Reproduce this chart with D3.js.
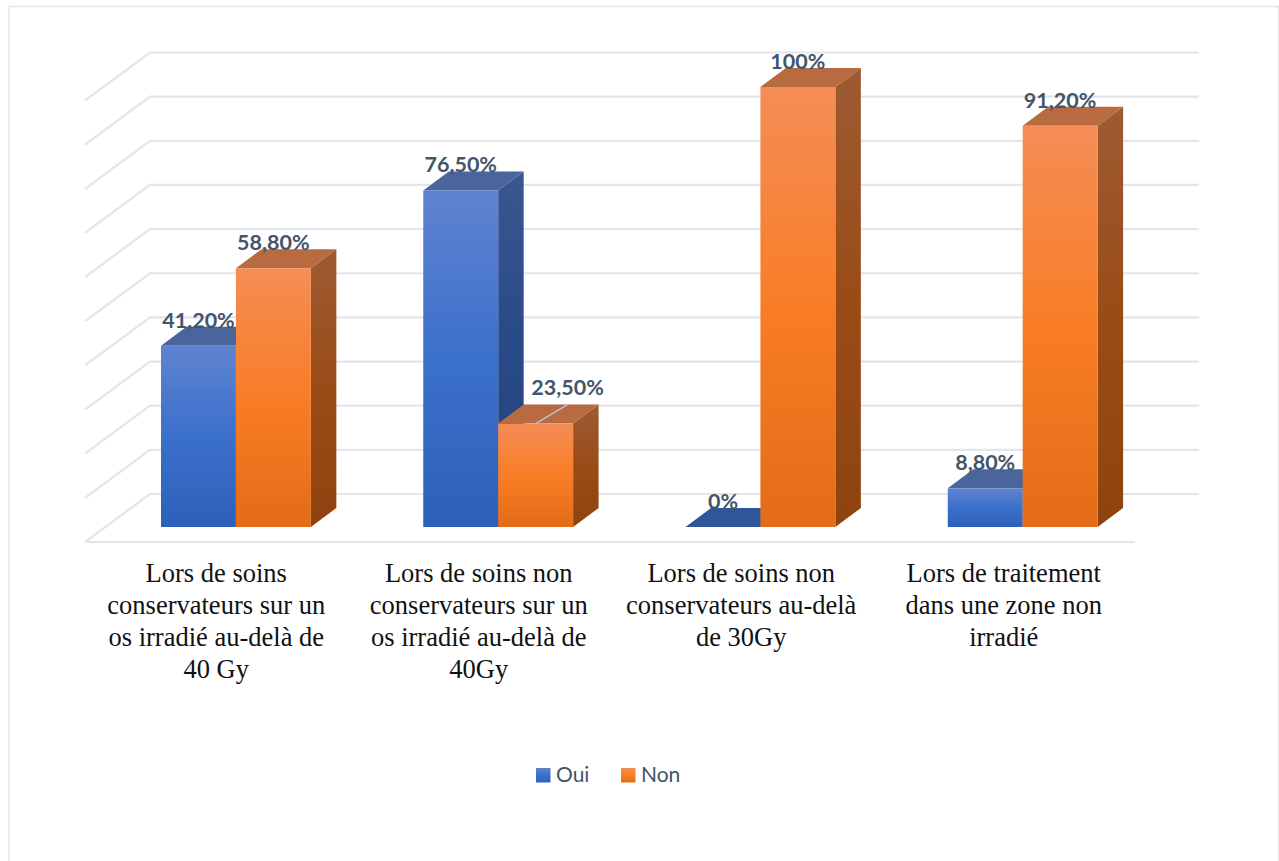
<!DOCTYPE html>
<html><head><meta charset="utf-8">
<style>html,body{margin:0;padding:0;background:#fff}svg{display:block}</style>
<script src="https://cdn.jsdelivr.net/npm/d3@7"></script></head>
<body><svg id="c" width="1279" height="861"></svg>
<script>
const categories=[
 ["Lors de soins","conservateurs sur un","os irradié au-delà de","40 Gy"],
 ["Lors de soins non","conservateurs sur un","os irradié au-delà de","40Gy"],
 ["Lors de soins non","conservateurs au-delà","de 30Gy"],
 ["Lors de traitement","dans une zone non","irradié"]];
const seriesNames=["Oui","Non"];
const oui=[41.2,76.5,0,8.8];
const non=[58.8,23.5,100,91.2];
const ouiLabels=["41,20%","76,50%","0%","8,80%"];
const nonLabels=["58,80%","23,50%","100%","91,20%"];
const gridTicks=d3.range(0,101,10);

const svg=d3.select("#c");
// frame
svg.append("rect").attr("x",9).attr("y",6.5).attr("width",1269.5).attr("height",900)
  .attr("fill","#fff").attr("stroke","#e2e6ec").attr("stroke-width",1.5);

// scales
const dx=65,dy=-48, bdx=25.5,bdy=-19;
const xAxis=d3.scaleBand().domain(d3.range(4)).range([85,1135]);
const xGroup=d3.scaleBand().domain(d3.range(4)).range([104.8,1153.8]).paddingInner(0.4286).paddingOuter(0.2143);
const xSeries=d3.scaleBand().domain(seriesNames).range([0,xGroup.bandwidth()]);
const yWall=d3.scaleLinear().domain([0,100]).range([494,52.5]);
const yBar=d3.scaleLinear().domain([0,100]).range([527,87]);

// gradients
const defs=svg.append("defs");
function grad(id,stops){
  const g=defs.append("linearGradient").attr("id",id).attr("x1",0).attr("y1",0).attr("x2",0).attr("y2",1);
  stops.forEach(s=>g.append("stop").attr("offset",s[0]).attr("stop-color",s[1]));
}
const frontStops={Oui:[[0,"#6083d0"],[0.5,"#3b70cb"],[1,"#2d60b8"]],Non:[[0,"#f48d56"],[0.5,"#f97d26"],[1,"#e46b17"]]};
const sideStops={Oui:[[0,"#3a5690"],[0.5,"#284a88"],[1,"#23427c"]],Non:[[0,"#9d5b33"],[0.5,"#9a4c17"],[1,"#8e430e"]]};
const topFill={Oui:"#4a659b",Non:"#b86a40"};
const zeroTop="#2f5699";
seriesNames.forEach(s=>{grad("f"+s,frontStops[s]);grad("s"+s,sideStops[s]);});

// gridlines
const grid=svg.append("g").attr("fill","none").attr("stroke","#e1e5ec").attr("stroke-width",2.2);
grid.selectAll("path").data(gridTicks).join("path")
  .attr("d",t=>{const y=yWall(t);return d3.line()([[85,y-dy],[85+dx,y],[1199,y]]);});
grid.append("path").attr("d",d3.line()([[85,yWall(0)-dy],[1135,yWall(0)-dy]]));

// bars
const rows=[];
seriesNames.forEach((s,si)=>{const vals=si?non:oui,labs=si?nonLabels:ouiLabels;
  vals.forEach((v,i)=>rows.push({s,i,v,lab:labs[i],x:xGroup(i)+xSeries(s),w:xSeries.bandwidth(),y:yBar(v)}));});
const y0=yBar(0);
function drawBar(g,d){
  const {x,w,y,s,v}=d;
  if(v>0){
    g.append("path").attr("fill",`url(#s${s})`)
      .attr("d",d3.line()([[x+w,y],[x+w+bdx,y+bdy],[x+w+bdx,y0+bdy],[x+w,y0]])+"Z");
  }
  g.append("path").attr("fill",v>0?topFill[s]:zeroTop)
    .attr("d",d3.line()([[x,y],[x+bdx,y+bdy],[x+w+bdx,y+bdy],[x+w,y]])+"Z");
  if(v>0){
    g.append("rect").attr("x",x).attr("y",y).attr("width",w).attr("height",y0-y).attr("fill",`url(#f${s})`);
  }
}
const bars=svg.append("g");
d3.range(4).forEach(i=>{
  drawBar(bars.append("g"),rows.find(r=>r.i===i&&r.s==="Oui"));
  drawBar(bars.append("g"),rows.find(r=>r.i===i&&r.s==="Non"));
});

// leader line for the displaced label
const displaced=nonLabels[1];
const dLabel=rows.find(r=>r.lab===displaced);
svg.append("line")
  .attr("x1",dLabel.x+dLabel.w/2).attr("y1",dLabel.y)
  .attr("x2",dLabel.x+dLabel.w/2+bdx*1.25).attr("y2",dLabel.y+bdy)
  .attr("stroke","#b9c4d0").attr("stroke-width",1.5);

// data labels
svg.append("g").selectAll("text").data(rows).join("text")
  .attr("x",d=>d.x+d.w/2+(d.lab===displaced?32:0))
  .attr("y",d=>d.y-(d.lab===displaced?29:18))
  .attr("text-anchor","middle")
  .attr("font-family","Lato,sans-serif").attr("font-weight",700)
  .attr("font-size",21.5).attr("fill","#44546a")
  .text(d=>d.lab);

// category labels
const cat=svg.append("g").attr("font-family","'Liberation Serif',serif").attr("font-size",26.5).attr("fill","#111").attr("text-anchor","middle");
categories.forEach((lines,i)=>{
  lines.forEach((t,j)=>cat.append("text").attr("x",xAxis(i)+xAxis.bandwidth()/2).attr("y",582+j*32).text(t));
});

// legend
const legX=d3.scaleOrdinal().domain(seriesNames).range([536,621]);
const leg=svg.append("g").selectAll("g").data(seriesNames).join("g");
leg.append("rect").attr("x",d=>legX(d)).attr("y",768).attr("width",14.5).attr("height",14.5).attr("fill",d=>`url(#f${d})`);
leg.append("text").attr("x",d=>legX(d)+20).attr("y",782).attr("font-family","Lato,sans-serif").attr("font-size",21).attr("fill","#44546a").text(d=>d);
</script></body></html>
